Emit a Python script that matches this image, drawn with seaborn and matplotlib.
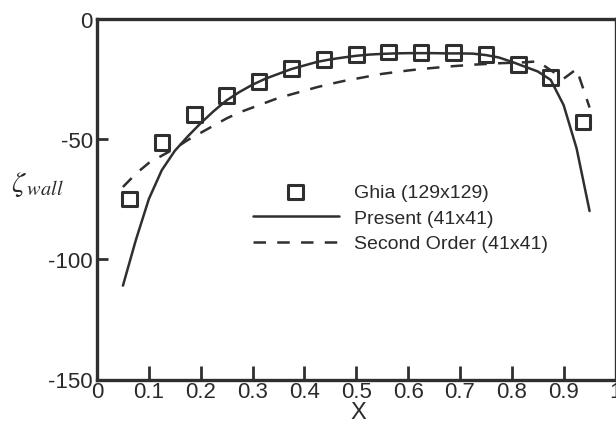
import matplotlib
matplotlib.use("Agg")
import matplotlib.pyplot as plt
from matplotlib import font_manager
import seaborn as sns
import pandas as pd

# ---- data ----
ghia_x = [0.0625, 0.125, 0.1875, 0.25, 0.3125, 0.375, 0.4375, 0.5, 0.5625,
          0.625, 0.6875, 0.75, 0.8125, 0.875, 0.9375]
ghia_y = [-75.0, -51.5, -40.0, -31.9, -26.2, -20.7, -17.0, -14.9, -14.0,
          -14.1, -14.1, -14.9, -19.1, -24.4, -43.0]

present_x = [0.05, 0.075, 0.1, 0.125, 0.15, 0.175, 0.2, 0.225, 0.25, 0.275,
             0.3, 0.325, 0.35, 0.375, 0.4, 0.425, 0.45, 0.475, 0.5, 0.525,
             0.55, 0.575, 0.6, 0.625, 0.65, 0.675, 0.7, 0.725, 0.75, 0.775,
             0.8, 0.825, 0.85, 0.875, 0.9, 0.925, 0.95]
present_y = [-111.0, -92.0, -75.0, -63.0, -55.0, -49.0, -43.5, -38.5, -34.0, -30.5,
             -27.5, -25.0, -23.0, -21.0, -19.5, -18.0, -17.0, -16.2, -15.5, -15.0,
             -14.7, -14.5, -14.4, -14.4, -14.4, -14.5, -14.5, -14.6, -15.2, -16.2,
             -18.0, -20.0, -22.0, -25.5, -36.0, -54.0, -80.0]

second_x = present_x
second_y = [-70.0, -64.5, -60.0, -57.0, -54.0, -50.5, -47.5, -44.5, -41.5, -39.0,
            -37.0, -35.0, -33.0, -31.5, -30.0, -28.5, -27.2, -26.0, -25.0, -24.0,
            -23.0, -22.3, -21.6, -21.0, -20.5, -20.0, -19.6, -19.2, -18.9, -18.6,
            -18.4, -18.2, -17.8, -21.5, -25.0, -21.0, -37.0]

x_ticks = [0, 0.1, 0.2, 0.3, 0.4, 0.5, 0.6, 0.7, 0.8, 0.9, 1]
x_tick_labels = ["0", "0.1", "0.2", "0.3", "0.4", "0.5", "0.6", "0.7", "0.8", "0.9", "1"]
y_ticks = [-150, -100, -50, 0]
y_tick_labels = ["-150", "-100", "-50", "0"]

labels = ["Ghia (129x129)", "Present (41x41)", "Second Order (41x41)"]

# ---- style ----
sns.set_style("ticks")
names = {f.name for f in font_manager.fontManager.ttflist}
narrow = "Liberation Sans Narrow" in names
fam = "Liberation Sans Narrow" if narrow else "Liberation Sans"
plt.rcParams["font.family"] = [fam, "DejaVu Sans"]
plt.rcParams["mathtext.fontset"] = "stix"

col = "#2f2f2f"
tcol = "#2a2a2a"

fig = plt.figure(figsize=(6.16, 4.27), dpi=100)
ax = fig.add_axes([97 / 616, (427 - 380.5) / 427, 518.5 / 616, 361 / 427])

df_p = pd.DataFrame({"x": present_x, "y": present_y})
df_s = pd.DataFrame({"x": second_x, "y": second_y})
df_g = pd.DataFrame({"x": ghia_x, "y": ghia_y})

sns.lineplot(data=df_p, x="x", y="y", ax=ax, color=col, linewidth=1.8,
             label=labels[1], sort=False)
sns.lineplot(data=df_s, x="x", y="y", ax=ax, color=col, linewidth=1.8,
             label=labels[2], sort=False)
ax.lines[-1].set_dashes([5, 4.5])
sns.scatterplot(data=df_g, x="x", y="y", ax=ax, marker="s", s=110,
                facecolor="none", edgecolor=col, linewidth=2.2,
                label=labels[0], zorder=5)

ax.set_xlim(0, 1)
ax.set_ylim(-150, 0)
ax.set_xticks(x_ticks)
ax.set_xticklabels(x_tick_labels)
ax.set_yticks(y_ticks)
ax.set_yticklabels(y_tick_labels)
tick_fs = 17 if narrow else 16
ax.tick_params(axis="x", direction="in", length=10, width=2, color=col,
               labelsize=tick_fs, labelcolor=tcol, pad=1, top=False)
ax.tick_params(axis="y", direction="in", length=8, width=2, color=col,
               labelsize=tick_fs, labelcolor=tcol, pad=3, right=False)
for sp in ax.spines.values():
    sp.set_visible(True)
    sp.set_linewidth(2.4)
    sp.set_color(col)

ax.set_xlabel("X", fontsize=17, color=tcol)
ax.xaxis.set_label_coords((358 - 97) / 518.5, (380.5 - 424) / 361)
ax.xaxis.label.set_va("bottom")
ax.set_ylabel(r"$\zeta_{\,wall}$", fontsize=21, rotation=0, color=tcol,
              ha="center", va="center")
ax.yaxis.set_label_coords((37 - 97) / 518.5, (380.5 - 185) / 361)

h, l = ax.get_legend_handles_labels()
hd = dict(zip(l, h))
leg_fs = 16 if narrow else 14
leg = ax.legend([hd[k] for k in labels], labels, frameon=False, fontsize=leg_fs,
                loc="upper left", bbox_to_anchor=((253 - 97) / 518.5 - 0.015, 0.565),
                handlelength=4.4, handletextpad=0.8, labelspacing=0.42,
                borderaxespad=0)
for t in leg.get_texts():
    t.set_color(tcol)

fig.savefig("out.png", dpi=100)
